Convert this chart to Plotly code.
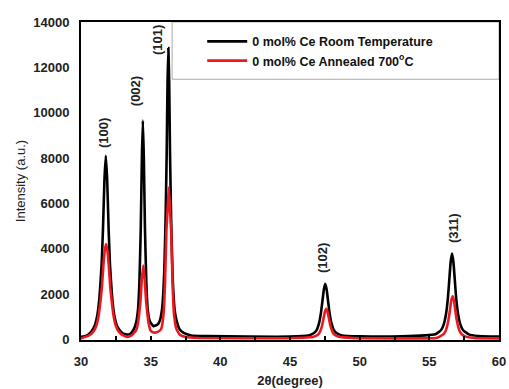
import plotly.graph_objects as go

# 2-theta (degree) / intensity (a.u.) samples, room-temperature film
rt_two_theta = [30.0, 30.38, 30.68, 30.98, 31.18, 31.33, 31.48, 31.58, 31.68, 31.78, 31.88, 31.98,
                32.08, 32.23, 32.38, 32.58, 32.88, 33.2, 33.5, 33.75, 33.94, 34.09, 34.19, 34.29,
                34.37, 34.44, 34.51, 34.59, 34.69, 34.79, 34.94, 35.2, 35.5, 35.67, 35.82, 35.97,
                36.07, 36.15, 36.21, 36.27, 36.33, 36.39, 36.47, 36.57, 36.72, 36.87, 37.07, 37.37,
                37.9, 39.0, 42.0, 45.0, 46.33, 46.73, 46.93, 47.08, 47.23, 47.33, 47.43, 47.53,
                47.63, 47.73, 47.83, 47.98, 48.13, 48.33, 48.73, 50.0, 53.0, 55.43, 55.83, 56.03,
                56.18, 56.33, 56.43, 56.53, 56.63, 56.73, 56.83, 56.93, 57.08, 57.23, 57.43, 57.83,
                58.5, 60.0]
rt_intensity = [110, 160, 300, 600, 1100, 1900, 3300, 4900, 7000, 8100, 7000, 4900,
                3300, 1900, 1100, 600, 330, 220, 230, 400, 700, 1300, 2500, 4900,
                8000, 9650, 8000, 4900, 2500, 1300, 800, 580, 650, 850, 1350, 2900,
                5300, 8200, 11300, 12850, 11300, 8200, 5300, 2900, 1300, 800, 450, 280,
                170, 140, 120, 120, 170, 280, 430, 700, 1200, 1700, 2200, 2450,
                2200, 1700, 1200, 700, 430, 280, 170, 130, 130, 220, 400, 650,
                1050, 1800, 2600, 3400, 3780, 3400, 2600, 1800, 1050, 650, 400, 220,
                150, 120]

# annealed at 700 C
an_two_theta = [30.0, 30.6, 30.9, 31.1, 31.25, 31.4, 31.5, 31.6, 31.7, 31.8, 31.9, 32.0, 32.1,
                32.2, 32.35, 32.5, 32.7, 33.0, 33.3, 33.6, 33.96, 34.07, 34.18, 34.27, 34.36,
                34.47, 34.58, 34.67, 34.76, 34.87, 34.98, 35.2, 35.5, 35.75, 35.93, 36.03, 36.13,
                36.22, 36.3, 36.38, 36.47, 36.57, 36.67, 36.85, 37.1, 37.5, 38.5, 45.0, 46.7,
                47.0, 47.15, 47.3, 47.4, 47.5, 47.6, 47.7, 47.8, 47.9, 48.05, 48.2, 48.5, 49.5,
                55.5, 55.77, 56.07, 56.22, 56.37, 56.47, 56.57, 56.67, 56.77, 56.87, 56.97, 57.12,
                57.27, 57.57, 58.2, 60.0]
an_intensity = [40, 180, 350, 600, 1000, 1700, 2300, 3200, 3900, 4200, 3900, 3200, 2300,
                1700, 1000, 600, 350, 180, 110, 160, 400, 650, 1150, 1700, 2600,
                3250, 2600, 1700, 1150, 650, 400, 300, 330, 450, 1150, 2500, 4800,
                5800, 6700, 5800, 4800, 2500, 1150, 450, 200, 100, 60, 50, 110,
                200, 330, 600, 900, 1200, 1350, 1200, 900, 600, 330, 200, 110, 60,
                60, 130, 260, 450, 850, 1250, 1700, 1900, 1700, 1250, 850, 450,
                260, 130, 60, 40]

# Miller-index labels and where they sit
hkl_labels = ["(100)", "(002)", "(101)", "(102)", "(311)"]
hkl_x = [31.58, 33.88, 35.45, 47.37, 56.7]
hkl_y = [9100, 10950, 13200, 3590, 4910]

series_names = ["0 mol% Ce Room Temperature", "0 mol% Ce Annealed 700<sup>o</sup>C"]

fig = go.Figure()
fig.add_trace(go.Scatter(x=rt_two_theta, y=rt_intensity, mode="lines", name=series_names[0],
                         line=dict(color="black", width=2.6, shape="spline", smoothing=0.4)))
fig.add_trace(go.Scatter(x=an_two_theta, y=an_intensity, mode="lines", name=series_names[1],
                         line=dict(color="rgb(236,24,32)", width=2.6, shape="spline", smoothing=0.4)))

for lab, x, y in zip(hkl_labels, hkl_x, hkl_y):
    fig.add_annotation(x=x, y=y, text=lab, showarrow=False, textangle=-90,
                       font=dict(family="Arial", size=13, color="#222", weight="bold"))

# legend frame
fig.add_shape(type="rect", xref="paper", yref="paper", x0=0.218, x1=1.0, y0=0.82, y1=1.0,
              line=dict(color="#aaaaaa", width=1), fillcolor="white", layer="below")

bold_tick = dict(family="Arial", size=13, color="#222", weight="bold")

fig.update_layout(
    width=509, height=389,
    margin=dict(l=81, r=10, t=22, b=49, autoexpand=False),
    paper_bgcolor="white", plot_bgcolor="white",
    font=dict(family="Arial", color="#222"),
    showlegend=True,
    legend=dict(x=0.29, y=0.985, xanchor="left", yanchor="top", bgcolor="rgba(0,0,0,0)",
                borderwidth=0, font=dict(family="Arial", size=12.5, color="#111", weight="bold"),
                itemwidth=40, tracegroupgap=0),
    xaxis=dict(range=[30, 60], dtick=5, tick0=30, showgrid=False, zeroline=False,
               showline=True, linecolor="black", linewidth=2, mirror=True,
               ticks="inside", ticklen=4, tickcolor="black", tickwidth=1.5,
               minor=dict(dtick=2.5, ticks="inside", ticklen=4, tickcolor="black"),
               tickfont=bold_tick, ticklabelstandoff=8, automargin=False,
               title=dict(text="2θ(degree)",
                          font=dict(family="Arial", size=13, color="#222", weight="bold"),
                          standoff=8)),
    yaxis=dict(range=[-30, 14000], dtick=2000, tick0=0, tickformat="d",
               showgrid=False, zeroline=False,
               showline=True, linecolor="black", linewidth=2, mirror=True,
               ticks="", tickfont=bold_tick, ticklabelstandoff=7, automargin=False,
               title=dict(text="Intensity (a.u.)", font=dict(family="Arial", size=13, color="#222"),
                          standoff=5)),
)

fig.write_html("out.html")
